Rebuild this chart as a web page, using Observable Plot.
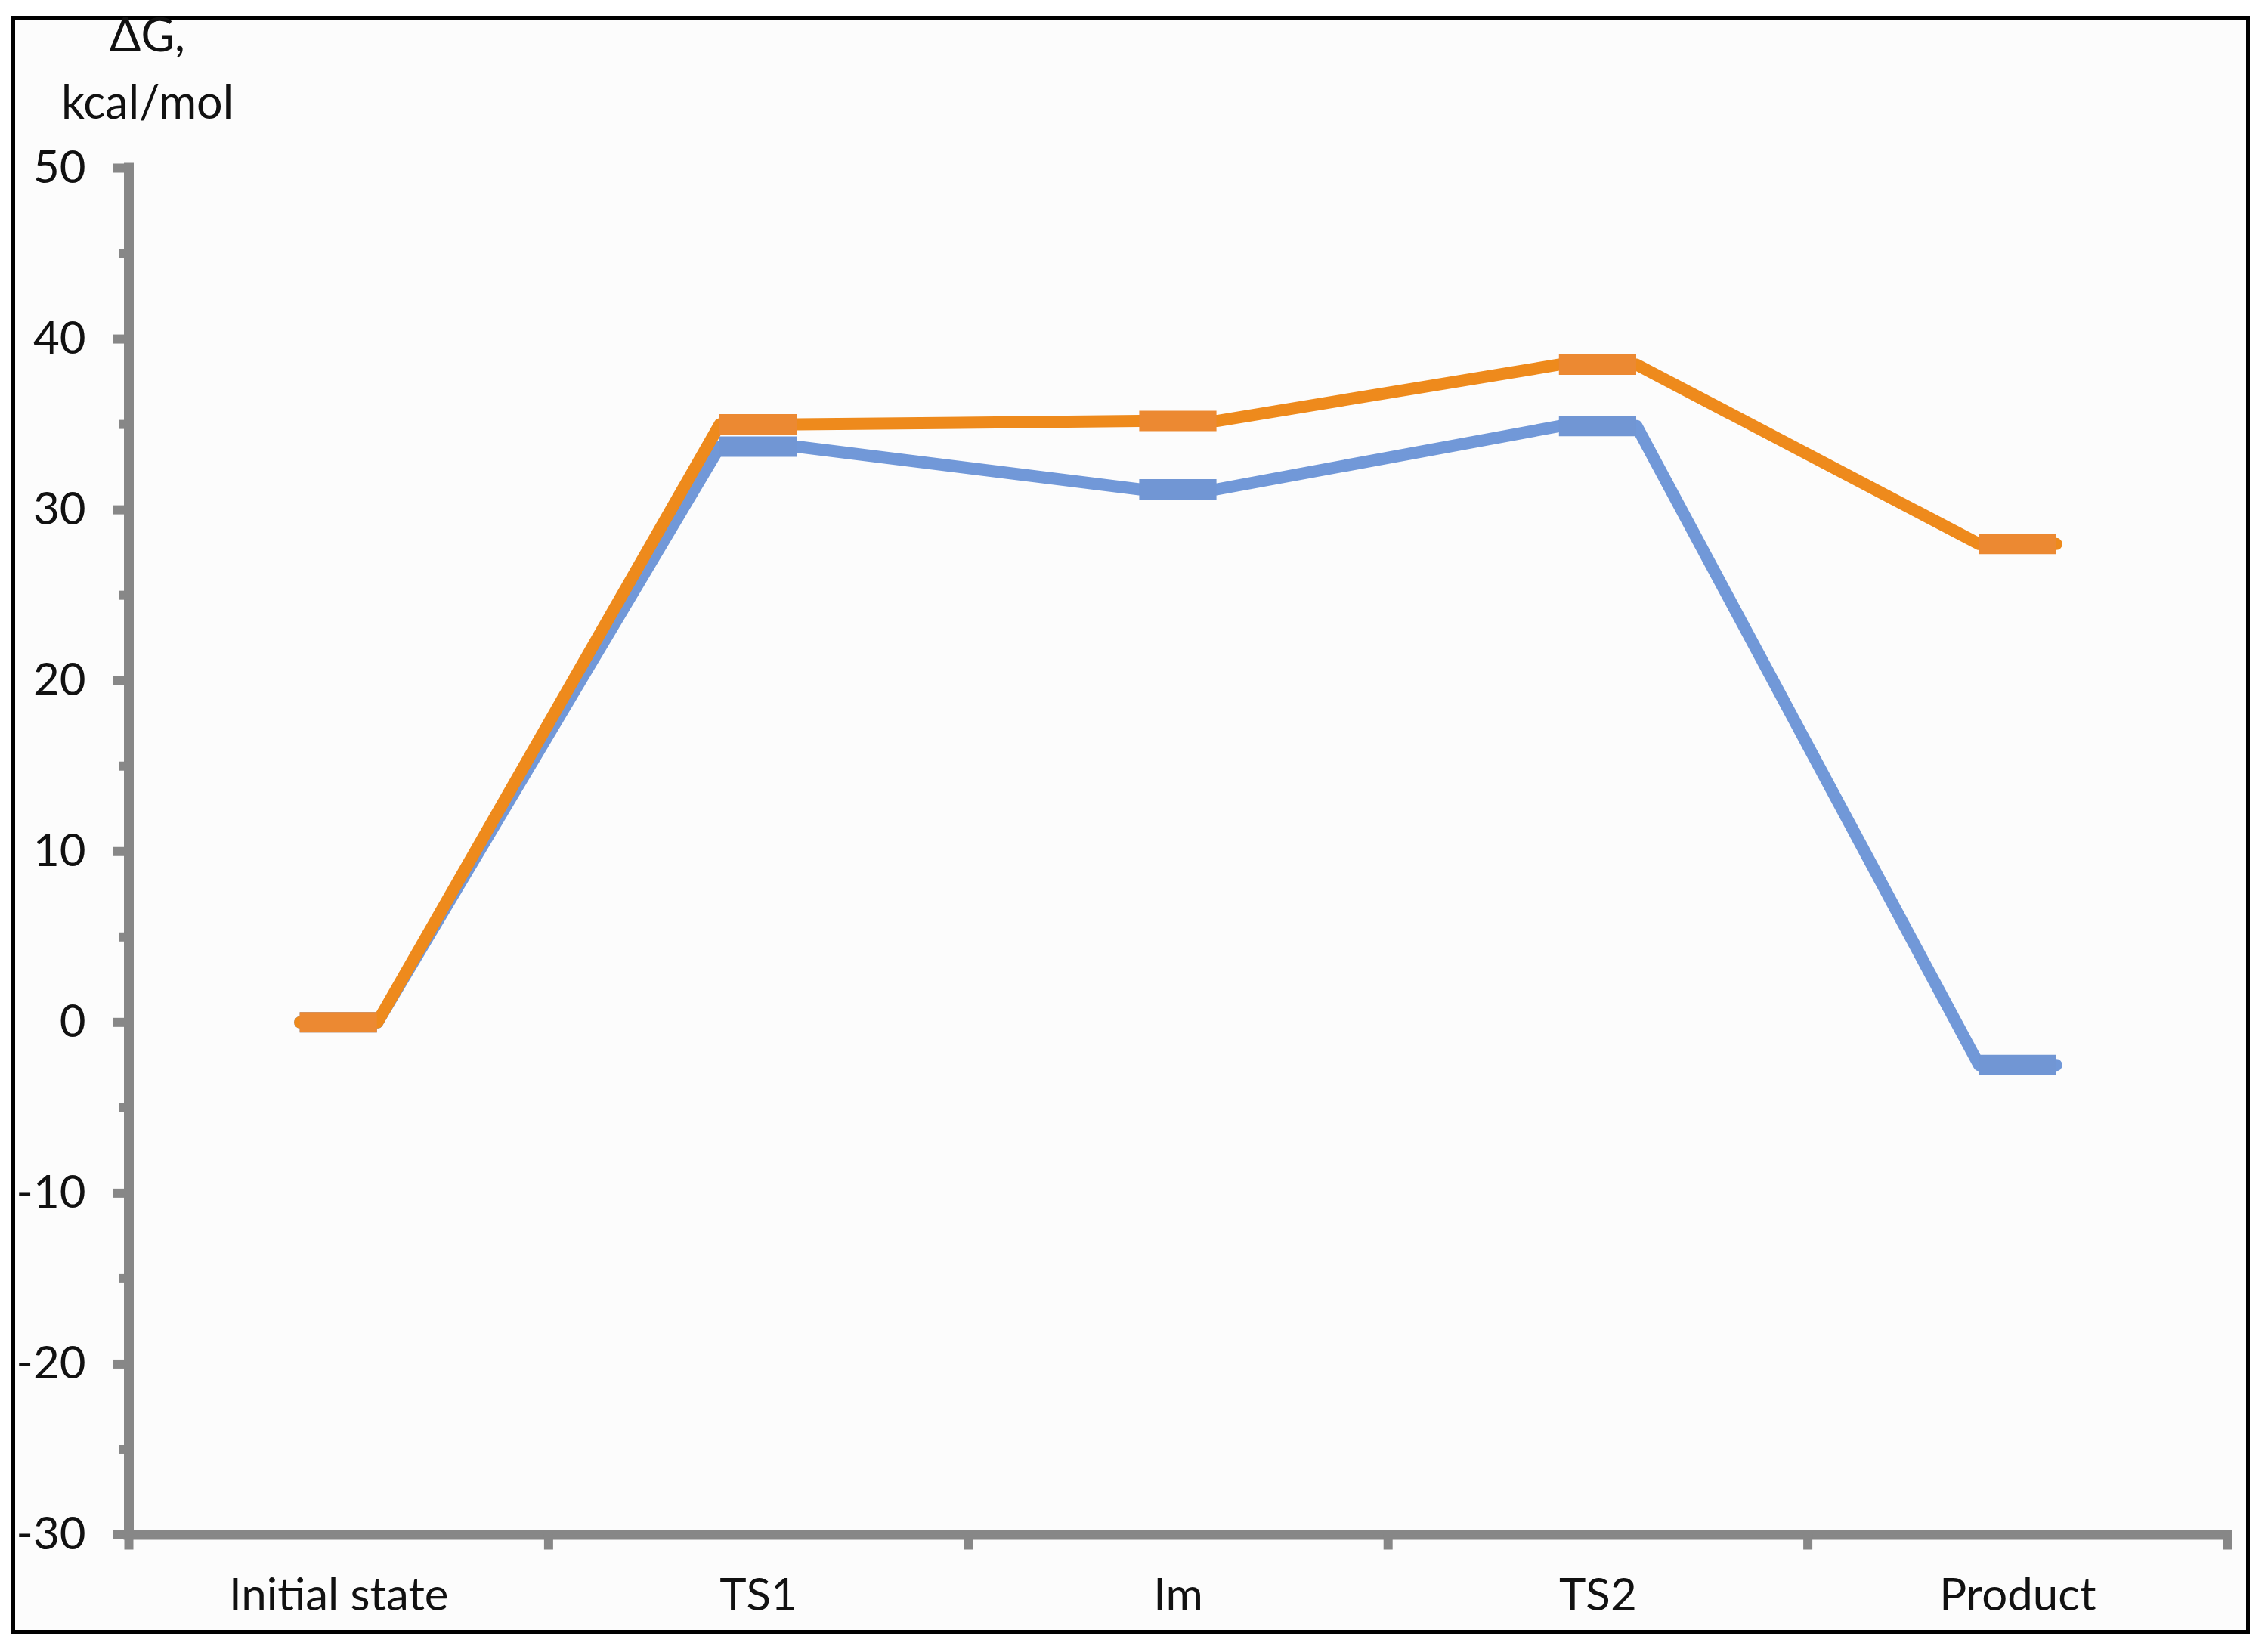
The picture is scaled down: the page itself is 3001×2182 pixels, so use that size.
<!DOCTYPE html>
<html>
<head>
<meta charset="utf-8">
<script src="https://cdn.jsdelivr.net/npm/d3@7"></script>
<script src="https://cdn.jsdelivr.net/npm/@observablehq/plot@0.6"></script>
<style>
  html, body { margin: 0; padding: 0; background: #ffffff; }
  #page { position: relative; width: 3001px; height: 2182px; overflow: hidden; font-family: Lato, "Open Sans", sans-serif; }
  #frame { position: absolute; left: 15px; top: 21px; width: 2962px; height: 2141px; box-sizing: border-box; border: 5.5px solid #000; background: #fcfcfc; }
  .ttl { position: absolute; left: 45px; width: 300px; text-align: center; font-size: 61px; line-height: 60px; color: #111; }
  #chart { position: absolute; left: 0; top: 0; }
</style>
</head>
<body>
<div id="page">
  <div id="frame"></div>
  <div class="ttl" style="top:15px">ΔG,</div>
  <div class="ttl" style="top:104px">kcal/mol</div>
  <div id="chart"></div>
</div>
<script>
// ---- data ----
const states = ["Initial state", "TS1", "Im", "TS2", "Product"];
const seriesOrange = [0, 35.0, 35.2, 38.5, 28.0];
const seriesBlue = [0, 33.7, 31.2, 34.9, -2.5];
const yMajorTicks = [50, 40, 30, 20, 10, 0, -10, -20, -30];
const yMinorTicks = [45, 35, 25, 15, 5, -5, -15, -25];

// ---- styling ----
const axisGray = "#878787";
const orangeLine = "#EE8A1C", orangeBar = "#EC8932";
const blueLine = "#7198D8", blueBar = "#7196D4";
const hw = 0.092; // half width of a level bar, in category units

function pathPoints(vals) {
  return vals.flatMap((v, i) => [{x: i + 0.5 - hw, y: v}, {x: i + 0.5 + hw, y: v}]);
}
function levelBars(vals) {
  return vals.map((v, i) => ({x1: i + 0.5 - hw, x2: i + 0.5 + hw, y: v}));
}

const plot = Plot.plot({
  width: 3001,
  height: 2182,
  marginLeft: 170,
  marginRight: 54,
  marginTop: 222,
  marginBottom: 151.5,
  x: {type: "linear", domain: [0, 5], label: null},
  y: {domain: [-30, 50], label: null},
  style: {background: "transparent", fontFamily: "Lato, 'Open Sans', sans-serif", fontSize: "60px", color: "#111"},
  marks: [
    // axis lines
    Plot.ruleX([0], {y1: -30, y2: 50, stroke: axisGray, strokeWidth: 13, strokeLinecap: "square"}),
    Plot.ruleY([-30], {x1: 0, x2: 5, stroke: axisGray, strokeWidth: 13, strokeLinecap: "square"}),
    // y axis major / minor ticks
    Plot.axisY(yMajorTicks, {tickSize: 20, tickPadding: 37, stroke: axisGray, strokeWidth: 12, tickFormat: d => String(d), label: null, fontSize: 60, fill: "#111"}),
    Plot.axisY(yMinorTicks, {tickSize: 13, stroke: axisGray, strokeWidth: 12, tickFormat: () => "", label: null}),
    // x axis boundary ticks and category labels
    Plot.axisX([0, 1, 2, 3, 4, 5], {tickSize: 20, stroke: axisGray, strokeWidth: 12, tickFormat: () => "", label: null}),
    Plot.axisX(states.map((s, i) => i + 0.5), {tickSize: 0, tickPadding: 57, tickFormat: d => states[Math.round(d - 0.5)], label: null, fontSize: 60, fill: "#111"}),
    // blue series
    Plot.line(pathPoints(seriesBlue), {x: "x", y: "y", stroke: blueLine, strokeWidth: 16, strokeLinejoin: "round"}),
    Plot.ruleY(levelBars(seriesBlue), {x1: "x1", x2: "x2", y: "y", stroke: blueBar, strokeWidth: 27}),
    // orange series
    Plot.line(pathPoints(seriesOrange), {x: "x", y: "y", stroke: orangeLine, strokeWidth: 16, strokeLinejoin: "round"}),
    Plot.ruleY(levelBars(seriesOrange), {x1: "x1", x2: "x2", y: "y", stroke: orangeBar, strokeWidth: 27})
  ]
});
document.getElementById("chart").appendChild(plot);
</script>
</body>
</html>
